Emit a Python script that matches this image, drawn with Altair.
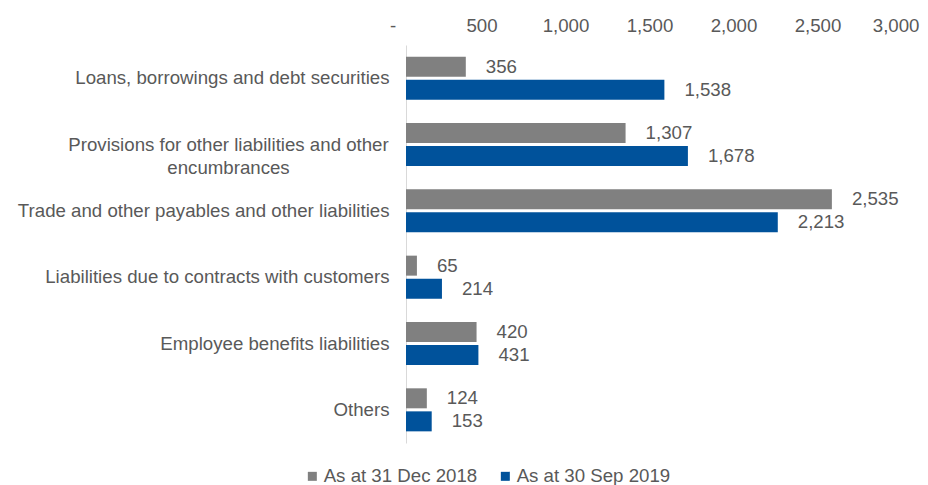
import altair as alt
import pandas as pd

categories = [
    "Loans, borrowings and debt securities",
    "Provisions for other liabilities and other|encumbrances",
    "Trade and other payables and other liabilities",
    "Liabilities due to contracts with customers",
    "Employee benefits liabilities",
    "Others",
]
series = ["As at 31 Dec 2018", "As at 30 Sep 2019"]
values_2018 = [356, 1307, 2535, 65, 420, 124]
values_2019 = [1538, 1678, 2213, 214, 431, 153]
colors = ["#808080", "#00529B"]
x_ticks = [0, 500, 1000, 1500, 2000, 2500, 3000]

rows = []
for c, a, b in zip(categories, values_2018, values_2019):
    rows.append({"cat": c, "series": series[0], "value": a})
    rows.append({"cat": c, "series": series[1], "value": b})
df = pd.DataFrame(rows)

FONT = "Liberation Sans"
TXT = "#595959"
FS = 18.67
MULTI = "indexof(datum.value, '|') >= 0"
LAST = "datum.value >= 3000"
FIRST = "datum.value == 0"

y_enc = alt.Y(
    "cat:N",
    sort=categories,
    scale=alt.Scale(paddingInner=0, paddingOuter=0),
    axis=alt.Axis(
        title=None,
        ticks=False,
        labelAlign={"condition": {"test": MULTI, "value": "center"}, "value": "right"},
        labelPadding={"condition": {"test": MULTI, "value": 178}, "value": 17},
        labelFontSize=FS,
        labelColor=TXT,
        labelFont=FONT,
        labelLimit=0,
        labelLineHeight=23,
        labelExpr="split(datum.value, '|')",
        domainColor="#D9D9D9",
        domainWidth=1,
    ),
)
yoff_enc = alt.YOffset(
    "series:N", sort=series, scale=alt.Scale(paddingInner=0, paddingOuter=0.44)
)
x_enc = alt.X(
    "value:Q",
    scale=alt.Scale(domain=[0, 3000], nice=False),
    axis=alt.Axis(
        orient="top",
        title=None,
        values=x_ticks,
        ticks=False,
        domain=False,
        grid=False,
        labelFlush=False,
        labelPadding=10,
        labelAlign={"condition": {"test": LAST, "value": "right"}, "value": "center"},
        labelOffset={
            "condition": [
                {"test": LAST, "value": 9},
                {"test": FIRST, "value": -13.5},
            ],
            "value": -8.5,
        },
        labelFontSize=FS,
        labelColor=TXT,
        labelFont=FONT,
        labelExpr="datum.value == 0 ? '-' : format(datum.value, ',')",
    ),
)

bars = alt.Chart(df).mark_bar(size=20).encode(
    y=y_enc,
    yOffset=yoff_enc,
    x=x_enc,
    color=alt.Color(
        "series:N",
        sort=series,
        scale=alt.Scale(domain=series, range=colors),
        legend=alt.Legend(
            title=None,
            orient="none",
            direction="horizontal",
            legendX=-103,
            legendY=421.5,
            symbolType="square",
            symbolSize=81,
            symbolStrokeWidth=0,
            labelFontSize=FS,
            labelColor=TXT,
            labelFont=FONT,
            labelOffset=2,
            columnPadding=18,
            padding=0,
        ),
    ),
)

labels = alt.Chart(df).mark_text(
    align="left", baseline="middle", dx=20, fontSize=FS, color=TXT, font=FONT
).encode(
    y=alt.Y("cat:N", sort=categories),
    yOffset=alt.YOffset("series:N", sort=series),
    x=alt.X("value:Q"),
    text=alt.Text("value:Q", format=","),
)

chart = (
    alt.layer(bars, labels)
    .properties(
        width=504,
        height=398,
        autosize=alt.AutoSizeParams(type="none"),
        padding={"left": 398, "top": 37, "right": 10, "bottom": 42},
    )
    .configure(font=FONT)
    .configure_view(strokeWidth=0, stroke="transparent")
)

chart.save("out.html", embed_options={"renderer": "svg", "actions": False})
